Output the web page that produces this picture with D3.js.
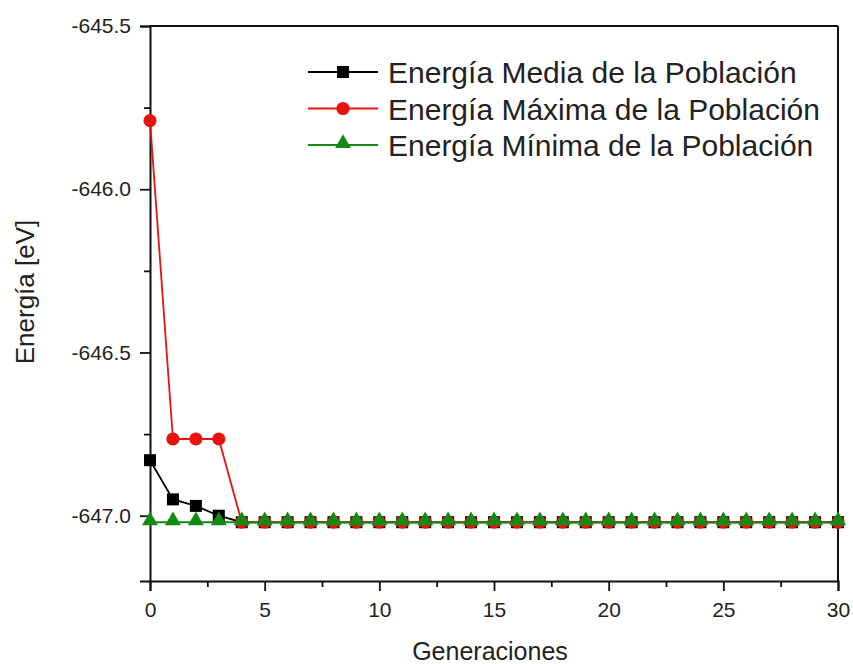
<!DOCTYPE html>
<html><head><meta charset="utf-8">
<script src="https://cdn.jsdelivr.net/npm/d3@7"></script>
<style>body{margin:0;background:#fff}svg{display:block}text{font-family:"Liberation Sans",Arial,sans-serif;fill:#222}</style>
</head><body>
<svg id="c" width="853" height="664"></svg>
<script>
const generations = d3.range(0, 31);
const meanEnergy = [-646.83, -646.95, -646.97, -647.00].concat(Array(27).fill(-647.02));
const maxEnergy = [-645.79, -646.765, -646.765, -646.765].concat(Array(27).fill(-647.02));
const minEnergy = Array(31).fill(-647.02);
const seriesNames = ["Energía Media de la Población", "Energía Máxima de la Población", "Energía Mínima de la Población"];
const seriesColors = ["#000000", "#e8120e", "#138a13"];
const xTicks = [0, 5, 10, 15, 20, 25, 30];
const yTicks = [-647.0, -646.5, -646.0, -645.5];
const yMinorTicks = [-646.75, -646.25, -645.75];
const xMinorTicks = [2.5, 7.5, 12.5, 17.5, 22.5, 27.5];

const svg = d3.select("#c");
const L = 150, R = 838, T = 26, B = 581;
const x = d3.scaleLinear().domain([0, 30]).range([L, R]);
const y = d3.scaleLinear().domain([-647.2, -645.5]).range([B, T]);

svg.append("g").attr("transform", `translate(0,${B})`)
  .call(d3.axisBottom(x).tickValues(xTicks).tickFormat(d => String(d)).tickSize(10).tickPadding(11));
svg.append("g").attr("class", "minor").attr("transform", `translate(0,${B})`)
  .call(d3.axisBottom(x).tickValues(xMinorTicks).tickFormat("").tickSize(6));
svg.append("g").attr("transform", `translate(${L},0)`)
  .call(d3.axisLeft(y).tickValues(yTicks).tickFormat(d => d.toFixed(1)).tickSize(10).tickPadding(9));
svg.append("g").attr("class", "minor").attr("transform", `translate(${L},0)`)
  .call(d3.axisLeft(y).tickValues(yMinorTicks).tickFormat("").tickSize(6));
svg.selectAll(".minor .domain").remove();
svg.selectAll(".domain").attr("stroke-width", 2).attr("stroke", "#111");
svg.selectAll(".tick line").attr("stroke-width", 1.8).attr("stroke", "#111");
svg.selectAll(".tick text").attr("font-size", null).style("font-size", "21px").attr("fill", "#222").style("font-family", '"Liberation Sans",Arial,sans-serif');
svg.append("line").attr("x1", L).attr("x2", R).attr("y1", T).attr("y2", T).attr("stroke", "#111").attr("stroke-width", 2);
svg.append("line").attr("x1", R).attr("x2", R).attr("y1", T).attr("y2", B).attr("stroke", "#111").attr("stroke-width", 2);

svg.append("text").attr("x", 490).attr("y", 660).attr("text-anchor", "middle").style("font-size", "25px").text("Generaciones");
svg.append("text").attr("transform", `translate(34,292) rotate(-90)`).attr("text-anchor", "middle").style("font-size", "26px").text("Energía [eV]");

const line = d3.line().x((d, i) => x(generations[i])).y(d => y(d));
const data = [meanEnergy, maxEnergy, minEnergy];
const plot = svg.append("g");
const sym = [d3.symbolSquare, d3.symbolCircle, d3.symbolTriangle];
const symSize = [144, 135, 110];
data.forEach((s, k) => {
  plot.append("path").datum(s).attr("d", line).attr("fill", "none").attr("stroke", seriesColors[k]).attr("stroke-width", 1.8);
});
data.forEach((s, k) => {
  plot.selectAll(null).data(s).enter().append("path")
    .attr("transform", (d, i) => `translate(${x(generations[i])},${y(d) + (k === 2 ? -1.5 : 0)})`)
    .attr("d", d3.symbol().type(sym[k]).size(symSize[k]))
    .attr("fill", seriesColors[k]);
});

const lg = svg.append("g");
const rowsY = [72, 108.5, 145];
seriesNames.forEach((n, k) => {
  const cy = rowsY[k];
  lg.append("line").attr("x1", 308).attr("x2", 378).attr("y1", cy).attr("y2", cy).attr("stroke", seriesColors[k]).attr("stroke-width", 1.8);
  lg.append("path").attr("transform", `translate(343,${cy + (k === 2 ? -1.5 : 0)})`).attr("d", d3.symbol().type(sym[k]).size(symSize[k])).attr("fill", seriesColors[k]);
  lg.append("text").attr("x", 388).attr("y", cy + 11).style("font-size", "30px").text(n);
});
</script>
</body></html>
